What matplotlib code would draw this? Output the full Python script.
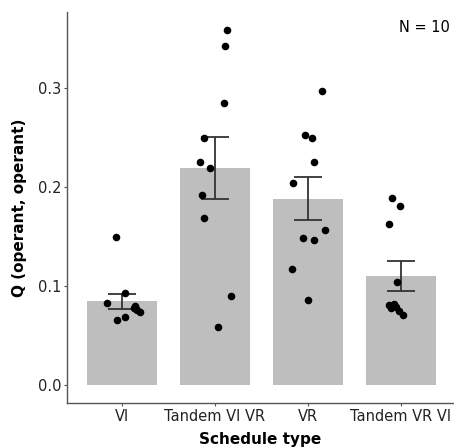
import numpy as np
import matplotlib
matplotlib.use("Agg")
import matplotlib.pyplot as plt

# schedule types and the group summary (mean +/- SE)
schedules = ["VI", "Tandem VI VR", "VR", "Tandem VR VI"]
means = [0.0844, 0.219, 0.188, 0.110]
err_low = [0.0771, 0.188, 0.1667, 0.0953]
err_high = [0.0922, 0.2502, 0.2098, 0.1253]

# individual subject values
vi_vals = [0.1495, 0.0831, 0.0929, 0.0653, 0.0687, 0.080, 0.0757, 0.074, 0.078, 0.077]
vi_vr_vals = [0.359, 0.3427, 0.2852, 0.2498, 0.2253, 0.2189, 0.1919, 0.1687, 0.0899, 0.0586]
vr_vals = [0.2973, 0.2522, 0.2495, 0.2253, 0.204, 0.1562, 0.1488, 0.1465, 0.1172, 0.0862]
vr_vi_vals = [0.1886, 0.1811, 0.1626, 0.104, 0.0811, 0.0818, 0.0791, 0.0774, 0.0747, 0.071]

# horizontal jitter of each point (category units)
vi_jit = [-0.06, -0.16, 0.03, -0.05, 0.03, 0.14, 0.16, 0.19, 0.13, 0.15]
vi_vr_jit = [0.13, 0.11, 0.10, -0.12, -0.16, -0.05, -0.14, -0.12, 0.17, 0.03]
vr_jit = [0.15, -0.03, 0.04, 0.06, -0.16, 0.18, -0.05, 0.07, -0.17, 0.0]
vr_vi_jit = [-0.10, -0.01, -0.13, -0.04, -0.13, -0.08, -0.05, -0.11, -0.02, 0.02]

all_vals = [vi_vals, vi_vr_vals, vr_vals, vr_vi_vals]
all_jit = [vi_jit, vi_vr_jit, vr_jit, vr_vi_jit]

fig = plt.figure(figsize=(4.54, 4.48), dpi=100)
ax = fig.add_axes([67 / 454, 45 / 448, 387 / 454, 391 / 448])

x = np.arange(len(schedules))
ax.bar(x, means, width=0.75, color="#bebebe", zorder=1)

means_arr = np.array(means)
yerr = [means_arr - np.array(err_low), np.array(err_high) - means_arr]
ax.errorbar(x, means, yerr=yerr, fmt="none", ecolor="#333333",
            elinewidth=1.3, capsize=10, capthick=1.3, zorder=2)

for i, (vals, jit) in enumerate(zip(all_vals, all_jit)):
    ax.scatter(i + np.array(jit), vals, s=30, color="black", zorder=3, linewidths=0)

ax.set_xlim(-0.59, 3.57)
ax.set_ylim(-0.0182, 0.377)
ax.set_xticks(x)
ax.set_xticklabels(schedules)
ax.set_yticks([0.0, 0.1, 0.2, 0.3])
ax.set_yticklabels(["0.0", "0.1", "0.2", "0.3"])

for side in ["top", "right"]:
    ax.spines[side].set_visible(False)
for side in ["left", "bottom"]:
    ax.spines[side].set_color("#555555")
    ax.spines[side].set_linewidth(1.0)
ax.tick_params(colors="#555555", length=2.5, pad=1.5, labelsize=10.5, labelcolor="#222222")

ax.set_xlabel("Schedule type", fontsize=11, fontweight="bold", labelpad=6)
ax.set_ylabel("Q (operant, operant)", fontsize=11, fontweight="bold", labelpad=8)
ax.text(0.99, 0.96, "N = 10", transform=ax.transAxes, ha="right", va="center", fontsize=10.5)

fig.savefig("out.png", dpi=100)
